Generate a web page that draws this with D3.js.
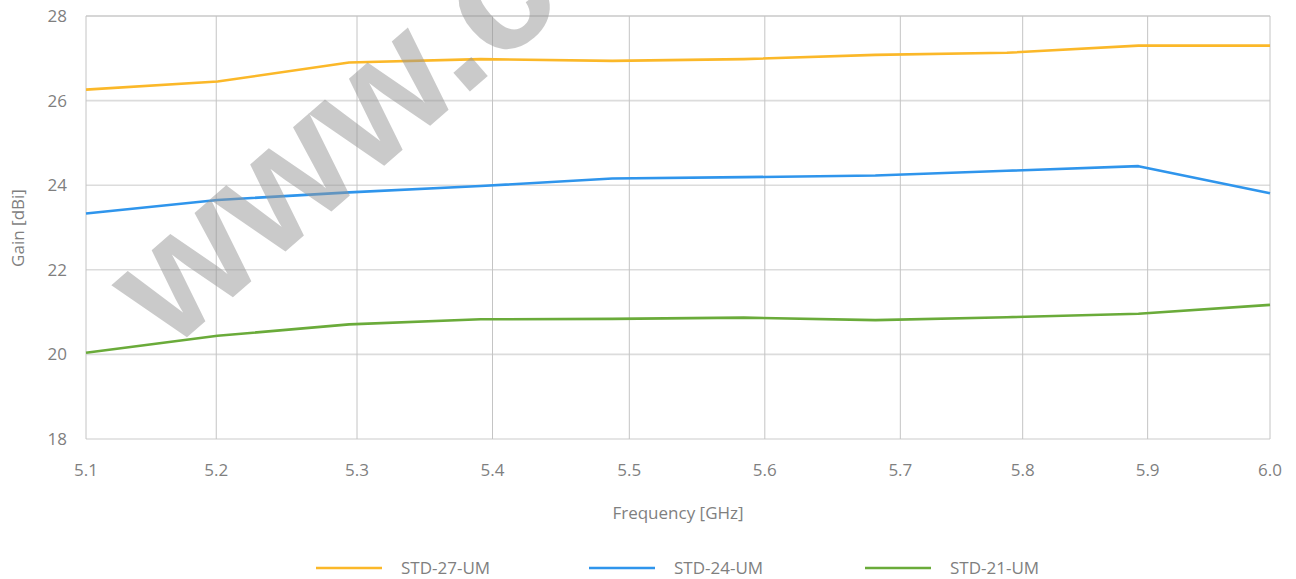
<!DOCTYPE html>
<html>
<head>
<meta charset="utf-8">
<script src="https://cdn.jsdelivr.net/npm/d3@7"></script>
<style>
  body { margin: 0; background: #fff; }
  text { font-family: "Open Sans", sans-serif; fill: #7f7f7f; }
</style>
</head>
<body>
<div id="chart"></div>
<script>
var svgWidth = 1296;
var svgHeight = 579;

var margin = { top: 16, right: 26, bottom: 140, left: 86 };
var width = svgWidth - margin.left - margin.right;
var height = svgHeight - margin.top - margin.bottom;

// data
var frequencies = [5.1, 5.2, 5.3, 5.4, 5.5, 5.6, 5.7, 5.8, 5.9, 6.0];
var std27 = [26.26, 26.45, 26.90, 26.98, 26.94, 26.98, 27.08, 27.13, 27.30, 27.30];
var std24 = [23.33, 23.65, 23.83, 23.98, 24.16, 24.19, 24.23, 24.34, 24.45, 23.81];
var std21 = [20.04, 20.44, 20.71, 20.83, 20.84, 20.87, 20.81, 20.88, 20.96, 21.17];

// gridlines / labels sit where the source chart put them
var tickAt = [5.1, 5.199, 5.306, 5.409, 5.513, 5.616, 5.719, 5.812, 5.907, 6.0];
var tickLabels = ["5.1", "5.2", "5.3", "5.4", "5.5", "5.6", "5.7", "5.8", "5.9", "6.0"];
var yTicks = [18, 20, 22, 24, 26, 28];

var seriesNames = ["STD-27-UM", "STD-24-UM", "STD-21-UM"];
var seriesColors = ["#fbb829", "#2f95ec", "#6aab3a"];
var seriesValues = [std27, std24, std21];

var svg = d3.select("#chart")
  .append("svg")
  .attr("width", svgWidth)
  .attr("height", svgHeight);

var chartGroup = svg.append("g")
  .attr("transform", `translate(${margin.left}, ${margin.top})`);

var xScale = d3.scaleLinear().domain([5.1, 6.0]).range([0, width]);
var yScale = d3.scaleLinear().domain([18, 28]).range([height, 0]);

// horizontal gridlines
chartGroup.append("g")
  .selectAll("line")
  .data(yTicks)
  .enter()
  .append("line")
  .attr("x1", 0)
  .attr("x2", width)
  .attr("y1", d => yScale(d))
  .attr("y2", d => yScale(d))
  .attr("stroke", d => d === 28 ? "#c8c8c8" : "#dcdcdc")
  .attr("stroke-width", 1.6);

// vertical gridlines
chartGroup.append("g")
  .selectAll("line")
  .data(tickAt)
  .enter()
  .append("line")
  .attr("x1", d => xScale(d))
  .attr("x2", d => xScale(d))
  .attr("y1", 0)
  .attr("y2", height)
  .attr("stroke", "#c4c4c4")
  .attr("stroke-width", 1);

// y axis labels
chartGroup.append("g")
  .selectAll("text")
  .data(yTicks)
  .enter()
  .append("text")
  .attr("x", -19)
  .attr("y", d => yScale(d))
  .attr("dy", "0.35em")
  .attr("text-anchor", "end")
  .style("font-size", "17px")
  .text(d => d);

// x axis labels
chartGroup.append("g")
  .selectAll("text")
  .data(tickAt)
  .enter()
  .append("text")
  .attr("x", d => xScale(d))
  .attr("y", height + 31)
  .attr("dy", "0.35em")
  .attr("text-anchor", "middle")
  .style("font-size", "17px")
  .text((d, i) => tickLabels[i]);

// lines
var lineGen = d3.line()
  .x((d, i) => xScale(frequencies[i]))
  .y(d => yScale(d));

chartGroup.append("g")
  .selectAll("path")
  .data(seriesValues)
  .enter()
  .append("path")
  .attr("d", d => lineGen(d))
  .attr("fill", "none")
  .attr("stroke", (d, i) => seriesColors[i])
  .attr("stroke-width", 2.6)
  .attr("stroke-linejoin", "round");

// axis titles
svg.append("text")
  .attr("x", margin.left + width / 2)
  .attr("y", 513)
  .attr("dy", "0.35em")
  .attr("text-anchor", "middle")
  .style("font-size", "17px")
  .text("Frequency [GHz]");

svg.append("text")
  .attr("transform", "translate(18, 228) rotate(-90)")
  .attr("dy", "0.35em")
  .attr("text-anchor", "middle")
  .style("font-size", "17px")
  .text("Gain [dBi]");

// legend
var legendX = [316, 589, 865];
var legend = svg.append("g")
  .selectAll("g")
  .data(seriesNames)
  .enter()
  .append("g")
  .attr("transform", (d, i) => `translate(${legendX[i]}, 568)`);

legend.append("line")
  .attr("x1", 0)
  .attr("x2", 66)
  .attr("stroke", (d, i) => seriesColors[i])
  .attr("stroke-width", 2.6);

legend.append("text")
  .attr("x", 85)
  .attr("dy", "0.35em")
  .style("font-size", "17px")
  .text(d => d);

// watermark
svg.append("text")
  .attr("transform", "translate(170, 352) rotate(-41)")
  .style("font-family", "'Liberation Sans', Arial, sans-serif")
  .style("font-weight", "bold")
  .style("font-size", "168px")
  .style("fill", "#969696")
  .style("opacity", 0.5)
  .text("www.c");
</script>
</body>
</html>
